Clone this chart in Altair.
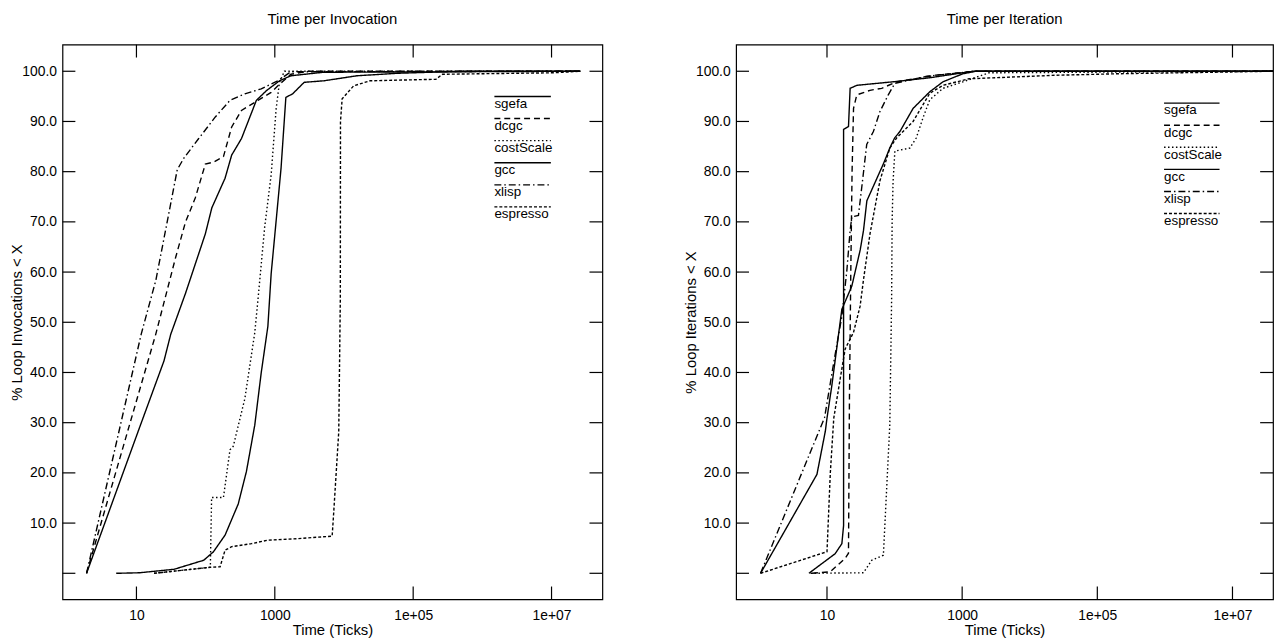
import altair as alt
import pandas as pd

# ---------------- data ----------------
SERIES = ["sgefa", "dcgc", "costScale", "gcc", "xlisp", "espresso"]

XTICKS = [10, 1000, 100000, 10000000]
XTICK_LABELS = ["10", "1000", "1e+05", "1e+07"]
YTICKS = [0, 10, 20, 30, 40, 50, 60, 70, 80, 90, 100]

# Time per Invocation
INV_SGEFA_X = [5.1, 11, 35, 94, 130, 191, 296, 389, 513, 637, 794, 886, 1045, 1231, 1445, 1807, 2657, 5130, 15350, 60000, 500000, 2.6e7]
INV_SGEFA_Y = [0, 0.1, 0.8, 2.6, 4.3, 7.6, 13.8, 20.3, 29.5, 40, 49.2, 59.7, 70.2, 80.7, 94.8, 95.5, 97.8, 98.1, 99.1, 99.6, 100, 100]
INV_DCGC_X = [1.9, 19, 37, 51, 71, 99, 130, 181, 238, 330, 571, 886, 1167, 1711, 3000, 2.6e7]
INV_DCGC_Y = [0, 47.6, 63, 69.9, 74.8, 81.5, 81.9, 83, 88.9, 92.2, 94.2, 95.8, 97.4, 99.4, 100, 100]
INV_COST_X = [18, 117, 122, 181, 225, 251, 369, 513, 571, 713, 886, 1045, 1167, 1377, 2.6e7]
INV_COST_Y = [0, 1.2, 15.1, 15.1, 24.6, 25.3, 34.8, 47.9, 54.5, 68.9, 79.4, 92.5, 97.8, 100, 100]
INV_GCC_X = [1.9, 11, 25, 31.3, 51.3, 99, 123, 191, 238, 330, 541, 751, 1167, 1711, 5000, 2.6e7]
INV_GCC_Y = [0, 28.9, 42.3, 47.6, 55.8, 67.6, 72.8, 78.7, 83.3, 86.6, 94.2, 96.1, 98.1, 99.1, 99.8, 100]
INV_XLISP_X = [1.9, 11.7, 19.1, 28, 38.9, 48.5, 79.4, 138, 225, 369, 637, 1103, 1710, 2.6e7]
INV_XLISP_Y = [0, 47.6, 58.4, 70.2, 80.4, 82.7, 86.6, 90.9, 94.2, 95.5, 96.5, 98.1, 99.9, 100]
INV_ESP_X = [18, 117, 162, 191, 238, 459, 794, 2133, 6745, 7080, 8400, 8850, 8900, 9400, 13800, 23800, 213000, 265000, 1.1e7, 2.6e7]
INV_ESP_Y = [0, 1.2, 1.3, 4.6, 5.3, 5.9, 6.6, 6.9, 7.4, 11.8, 28.2, 54.5, 90, 94.5, 97.1, 98.1, 98.4, 99.4, 99.7, 100]

# Time per Iteration
ITR_SGEFA_X = [5.4, 13.2, 16.6, 17.6, 17.6, 20.8, 22, 27.6, 95, 331, 1435, 4e7]
ITR_SGEFA_Y = [0, 3.9, 5.9, 9.5, 88.4, 89, 96.6, 97.2, 97.9, 98.7, 100, 100]
ITR_DCGC_X = [6.0, 11.2, 18.6, 20.8, 21.5, 22.5, 23.5, 24.7, 27.6, 43.3, 64.5, 107, 400, 1500, 4e7]
ITR_DCGC_Y = [0, 0.3, 3, 4, 35, 60, 80, 92.6, 95.3, 96.2, 96.6, 97.9, 99.2, 100, 100]
ITR_COST_X = [5.7, 34.7, 45.9, 68.3, 85, 90.4, 92, 95, 101, 168, 209, 263, 331, 520, 1023, 2500, 4e7]
ITR_COST_Y = [0, 0.1, 2.6, 3.6, 29.6, 54.5, 70, 78, 84.1, 84.7, 86.7, 90.7, 94.3, 96.6, 97.9, 99.7, 100]
ITR_GCC_X = [1.04, 7.1, 9.45, 10, 11.8, 16.6, 23.3, 31, 34.7, 38.9, 68, 85, 100, 120, 188, 331, 520, 1023, 1607, 4e7]
ITR_GCC_Y = [0, 19.7, 28.3, 30.9, 37.4, 52.6, 57.2, 64.4, 68.3, 74.2, 81.5, 84.7, 86.7, 88, 92.6, 95.9, 97.9, 99.5, 100, 100]
ITR_XLISP_X = [1.04, 9.2, 12.6, 16.6, 19.7, 22, 23.3, 29.2, 32.7, 38.7, 48.6, 60.8, 80.7, 101, 300, 1500, 4e7]
ITR_XLISP_Y = [0, 31, 42, 51.2, 60.4, 68.3, 71, 71.3, 76.9, 85.4, 88, 92, 95.3, 97.6, 99, 100, 100]
ITR_ESP_X = [1.04, 10, 11.2, 12.6, 15.7, 18.6, 24.7, 30.9, 34.7, 43.4, 60.8, 85, 107, 188, 331, 520, 1260, 24000, 200000, 4e7]
ITR_ESP_Y = [0, 4.3, 20, 30.9, 38.8, 44.7, 48, 53.2, 58.5, 67.7, 78.2, 84.7, 86.7, 90, 95.6, 97.2, 98.5, 99.2, 99.5, 100]

# ---------------- styling ----------------
DASHES = [[1, 0], [6, 4], [1.5, 2.5], [1, 0], [7, 3, 1.5, 3], [3, 2]]
FONT = "Liberation Sans"


def build_df(pairs):
    rows = []
    for name, (xs, ys) in zip(SERIES, pairs):
        for i, (x, y) in enumerate(zip(xs, ys)):
            rows.append({"series": name, "x": x, "y": y, "i": i})
    return pd.DataFrame(rows)


inv_df = build_df([(INV_SGEFA_X, INV_SGEFA_Y), (INV_DCGC_X, INV_DCGC_Y), (INV_COST_X, INV_COST_Y),
                   (INV_GCC_X, INV_GCC_Y), (INV_XLISP_X, INV_XLISP_Y), (INV_ESP_X, INV_ESP_Y)])
itr_df = build_df([(ITR_SGEFA_X, ITR_SGEFA_Y), (ITR_DCGC_X, ITR_DCGC_Y), (ITR_COST_X, ITR_COST_Y),
                   (ITR_GCC_X, ITR_GCC_Y), (ITR_XLISP_X, ITR_XLISP_Y), (ITR_ESP_X, ITR_ESP_Y)])

x_label_expr = " : ".join(f"datum.value == {v} ? '{l}'" for v, l in zip(XTICKS, XTICK_LABELS)) + " : ''"
y_label_expr = "datum.value == 0 ? '' : format(datum.value, '.1f')"

dash_scale = alt.Scale(domain=SERIES, range=DASHES)
H = 560


def panel(df, title, ytitle, xdomain, W, leg_x0, leg_x1, leg_top):
    xs = alt.Scale(type="log", domain=xdomain, nice=False)
    ys = alt.Scale(domain=[-5.2, 105.3], nice=False, zero=False)
    xaxis = alt.Axis(
        values=XTICKS, labelExpr=x_label_expr, title="Time (Ticks)", tickSize=0,
        domain=False, grid=False, labelFontSize=14, labelPadding=9, labelFlush=False,
        labelOverlap=False, titleFontSize=15, titlePadding=0, titleFontWeight="normal",
        labelColor="black", titleColor="black", labelFont=FONT, titleFont=FONT)
    yaxis = alt.Axis(
        values=YTICKS, labelExpr=y_label_expr, title=ytitle, tickSize=0,
        domain=False, grid=False, labelFontSize=14, labelPadding=6, labelOverlap=False,
        titleFontSize=15, titleFontWeight="normal", titleX=-38, titleY=H / 2,
        labelColor="black", titleColor="black", labelFont=FONT, titleFont=FONT)

    lines = alt.Chart(df).mark_line(color="black", strokeWidth=1.4, clip=True).encode(
        x=alt.X("x:Q", scale=xs, axis=xaxis),
        y=alt.Y("y:Q", scale=ys, axis=yaxis),
        strokeDash=alt.StrokeDash("series:N", scale=dash_scale, legend=None),
        detail="series:N",
        order="i:Q",
    )

    xt = pd.DataFrame({"v": XTICKS})
    yt = pd.DataFrame({"v": YTICKS})
    bottom = alt.Chart(xt).mark_rule(color="black", strokeWidth=1.2).encode(
        x=alt.X("v:Q", scale=xs, axis=xaxis), y=alt.value(H), y2=alt.value(H - 13))
    top = alt.Chart(xt).mark_rule(color="black", strokeWidth=1.2).encode(
        x=alt.X("v:Q", scale=xs, axis=xaxis), y=alt.value(0), y2=alt.value(13))
    left = alt.Chart(yt).mark_rule(color="black", strokeWidth=1.2).encode(
        y=alt.Y("v:Q", scale=ys, axis=yaxis), x=alt.value(0), x2=alt.value(13))
    right = alt.Chart(yt).mark_rule(color="black", strokeWidth=1.2).encode(
        y=alt.Y("v:Q", scale=ys, axis=yaxis), x=alt.value(W - 13), x2=alt.value(W))

    leg = pd.DataFrame({"series": SERIES, "k": list(range(len(SERIES)))})
    leg_base = alt.Chart(leg).transform_calculate(
        ly=f"{leg_top} + datum.k * 22.3", ty=f"{leg_top} + 7.5 + datum.k * 22.3")
    leg_lines = leg_base.mark_rule(color="black", strokeWidth=1.4).encode(
        x=alt.value(leg_x0), x2=alt.value(leg_x1),
        y=alt.Y("ly:Q", scale=None),
        strokeDash=alt.StrokeDash("series:N", scale=dash_scale, legend=None))
    leg_text = leg_base.mark_text(align="left", baseline="middle", fontSize=13.5, font=FONT,
                                  color="black").encode(
        x=alt.value(leg_x0), y=alt.Y("ty:Q", scale=None), text="series:N")

    return alt.layer(lines, bottom, top, left, right, leg_lines, leg_text).properties(
        width=W, height=H,
        title=alt.TitleParams(title, fontSize=15, font=FONT, fontWeight="normal",
                              offset=17, anchor="middle", color="black"))


p1 = panel(inv_df, "Time per Invocation", "% Loop Invocations < X", [0.853, 5.43e7], 545, 436, 493, 52.3)
p2 = panel(itr_df, "Time per Iteration", "% Loop Iterations < X", [0.452, 3.98e7], 542, 432, 488, 59)

chart = alt.hconcat(p1, p2, spacing=79).properties(
    padding={"left": 1, "top": 0, "right": 0, "bottom": 0}
).configure(font=FONT).configure_view(stroke="black", strokeWidth=1.2)

chart.save("out.html", embed_options={"renderer": "svg", "actions": False})
